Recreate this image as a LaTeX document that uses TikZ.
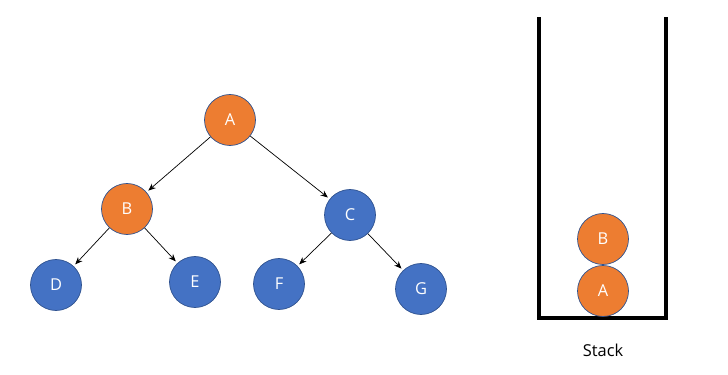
\documentclass[tikz,border=0pt]{standalone}
\usepackage{fontspec}
\setmainfont{Open Sans}
\usepackage{tikz}
\usetikzlibrary{arrows.meta,positioning}
\definecolor{orangenode}{HTML}{ED7D31}
\definecolor{bluenode}{HTML}{4472C4}
\definecolor{rimblue}{HTML}{2F528F}

\begin{document}
\begin{tikzpicture}[
  x=0.03cm,y=-0.03cm,
  font=\fontsize{14}{16}\selectfont,
  vertex/.style={circle,draw=rimblue,line width=0.6pt,minimum size=1.53cm,
                 inner sep=0pt,text=white},
  done/.style={vertex,fill=orangenode},
  todo/.style={vertex,fill=bluenode},
  ar/.style={-{Stealth[length=2.2mm,width=1.8mm]},line width=0.6pt,shorten >=2pt},
  wall/.style={line width=3pt,line cap=rect},
]
\useasboundingbox (0,0) rectangle (728,375);

% ---- Tree
\node[done] (a) at (230,120) {A};
\node[done] (b) at (127,209) {B};
\node[todo] (c) at (350,215) {C};
\node[todo] (d) at (56,285)  {D};
\node[todo] (e) at (195,282) {E};
\node[todo] (f) at (279,284) {F};
\node[todo] (g) at (421,289) {G};

% ---- Arrows
\draw[ar] (a) -- (b);
\draw[ar] (a) -- (c);
\draw[ar] (b) -- (d);
\draw[ar] (b) -- (e);
\draw[ar] (c) -- (f);
\draw[ar] (c) -- (g);

% ---- Stack
\coordinate (tl) at (539,19);
\coordinate (bl) at (539,318);
\coordinate (br) at (666,318);
\coordinate (tr) at (666,19);
\draw[wall] (tl) -- (bl) -- (br) -- (tr);
\node[done] (sa) at (603,291) {A};
\node[done] (sb) at (603,239) {B};
\node (lbl) at (603,350) {Stack};

\end{tikzpicture}
\end{document}
